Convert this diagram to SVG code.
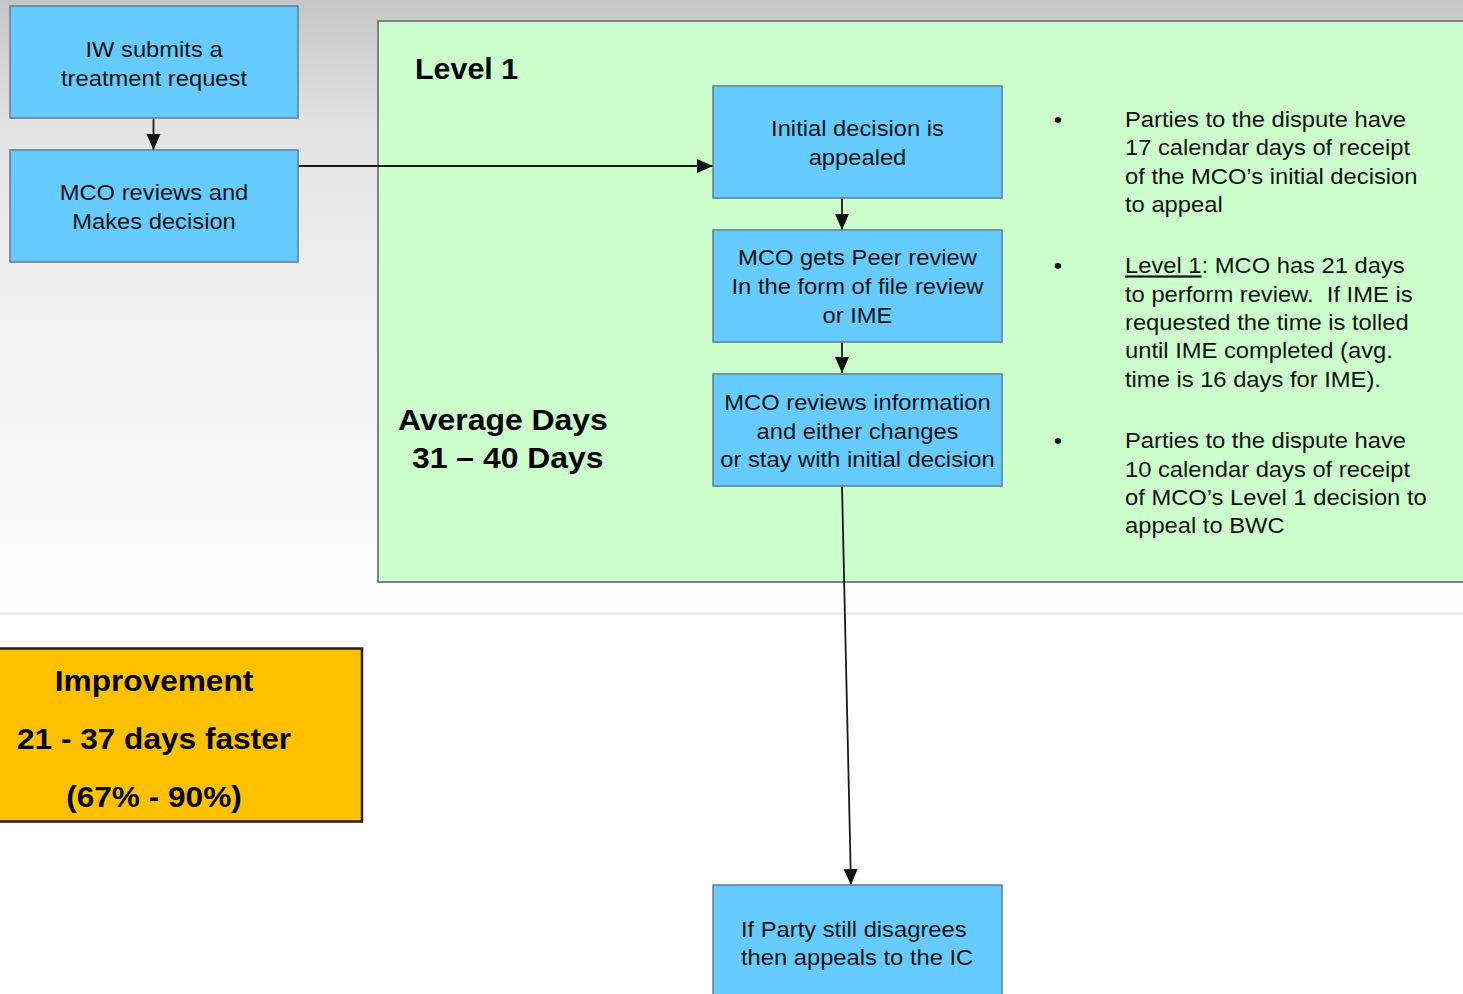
<svg xmlns="http://www.w3.org/2000/svg" width="1463" height="994" viewBox="0 0 1463 994">
<defs>
<linearGradient id="bg" x1="0" y1="0" x2="0" y2="612" gradientUnits="userSpaceOnUse">
<stop offset="0" stop-color="#c6c6c6"/>
<stop offset="0.2" stop-color="#e2e2e2"/>
<stop offset="0.43" stop-color="#eeeeee"/>
<stop offset="1" stop-color="#fdfdfd"/>
</linearGradient>
<marker id="arr" viewBox="0 0 16 16" refX="16" refY="8" markerWidth="16" markerHeight="16" markerUnits="userSpaceOnUse" orient="auto">
<path d="M0,1 L16,8 L0,15 Z" fill="#111"/>
</marker>
<style>
.box{fill:#66ccff;stroke:#5b7f99;stroke-width:1.5}
.t{font-family:"Liberation Sans",Arial,sans-serif;font-size:22px;fill:#111}
.c{text-anchor:middle}
.b{font-family:"Liberation Sans",Arial,sans-serif;font-weight:bold;font-size:29px;fill:#000}
.conn{stroke:#1a1a1a;stroke-width:1.8;fill:none}
</style>
</defs>
<rect x="0" y="0" width="1463" height="612" fill="url(#bg)"/>
<rect x="0" y="612" width="1463" height="382" fill="#ffffff"/>
<line x1="0" y1="613.5" x2="1463" y2="613.5" stroke="#e6e6e6" stroke-width="2"/>

<g id="level1-panel">
<rect x="378" y="21" width="1090" height="561" fill="#ccffcc" stroke="#808080" stroke-width="2"/>
<text class="b" x="415" y="79" transform="matrix(1.05 0 0 1 -20.75 0)">Level 1</text>
<text class="b" x="398" y="430" transform="matrix(1.1 0 0 1 -39.8 0)">Average Days</text>
<text class="b" x="412" y="468" transform="matrix(1.1 0 0 1 -41.2 0)">31 – 40 Days</text>
</g>

<g id="notes" transform="matrix(1.08 0 0 1 -90 0)">
<g class="t">
<text x="1059" y="127">•</text>
<text x="1125" y="127">Parties to the dispute have</text>
<text x="1125" y="155.3">17 calendar days of receipt</text>
<text x="1125" y="183.6">of the MCO’s initial decision</text>
<text x="1125" y="212">to appeal</text>
<text x="1059" y="273.5">•</text>
<text x="1125" y="273.5"><tspan text-decoration="underline">Level 1</tspan>: MCO has 21 days</text>
<text x="1125" y="301.8">to perform review.&#160; If IME is</text>
<text x="1125" y="330.1">requested the time is tolled</text>
<text x="1125" y="358.4">until IME completed (avg.</text>
<text x="1125" y="386.7">time is 16 days for IME).</text>
<text x="1059" y="448.5">•</text>
<text x="1125" y="448.5">Parties to the dispute have</text>
<text x="1125" y="476.8">10 calendar days of receipt</text>
<text x="1125" y="505.1">of MCO’s Level 1 decision to</text>
<text x="1125" y="533.4">appeal to BWC</text>
</g>
</g>

<g id="connectors">
<line class="conn" x1="153.5" y1="118" x2="153.5" y2="150" marker-end="url(#arr)"/>
<line class="conn" x1="298" y1="166" x2="713" y2="166" marker-end="url(#arr)"/>
<line class="conn" x1="842" y1="198" x2="842" y2="230" marker-end="url(#arr)"/>
<line class="conn" x1="842" y1="342" x2="842" y2="373" marker-end="url(#arr)"/>
<line class="conn" x1="842" y1="486" x2="851" y2="885" marker-end="url(#arr)"/>
</g>

<g id="n-iw">
<rect class="box" x="10" y="6" width="288" height="112"/>
<g transform="matrix(1.08 0 0 1 -12.3 0)">
<text class="t c" x="154" y="57">IW submits a</text>
<text class="t c" x="154" y="86">treatment request</text>
</g>
</g>

<g id="n-mco">
<rect class="box" x="10" y="150" width="288" height="112"/>
<g transform="matrix(1.08 0 0 1 -12.3 0)">
<text class="t c" x="154" y="200">MCO reviews and</text>
<text class="t c" x="154" y="229">Makes decision</text>
</g>
</g>

<g id="n-appeal">
<rect class="box" x="713" y="86" width="289" height="112"/>
<g transform="matrix(1.08 0 0 1 -68.6 0)">
<text class="t c" x="857.5" y="136">Initial decision is</text>
<text class="t c" x="857.5" y="165">appealed</text>
</g>
</g>

<g id="n-peer">
<rect class="box" x="713" y="230" width="289" height="112"/>
<g transform="matrix(1.08 0 0 1 -68.6 0)">
<text class="t c" x="857.5" y="265">MCO gets Peer review</text>
<text class="t c" x="857.5" y="294">In the form of file review</text>
<text class="t c" x="857.5" y="323">or IME</text>
</g>
</g>

<g id="n-review">
<rect class="box" x="713" y="374" width="289" height="112"/>
<g transform="matrix(1.08 0 0 1 -68.6 0)">
<text class="t c" x="857.5" y="410">MCO reviews information</text>
<text class="t c" x="857.5" y="439">and either changes</text>
<text class="t c" x="857.5" y="467">or stay with initial decision</text>
</g>
</g>

<g id="n-ic">
<rect class="box" x="713" y="885" width="289" height="120"/>
<g transform="matrix(1.08 0 0 1 -59.3 0)">
<text class="t" x="741" y="937">If Party still disagrees</text>
<text class="t" x="741" y="965">then appeals to the IC</text>
</g>
</g>

<g id="n-improvement">
<rect x="-4" y="648.5" width="366" height="173" fill="#ffc000" stroke="#222222" stroke-width="2.5"/>
<g transform="matrix(1.09 0 0 1 -13.86 0)">
<text class="b c" x="154" y="691">Improvement</text>
<text class="b c" x="154" y="749">21 - 37 days faster</text>
<text class="b c" x="154" y="807">(67% - 90%)</text>
</g>
</g>
</svg>
